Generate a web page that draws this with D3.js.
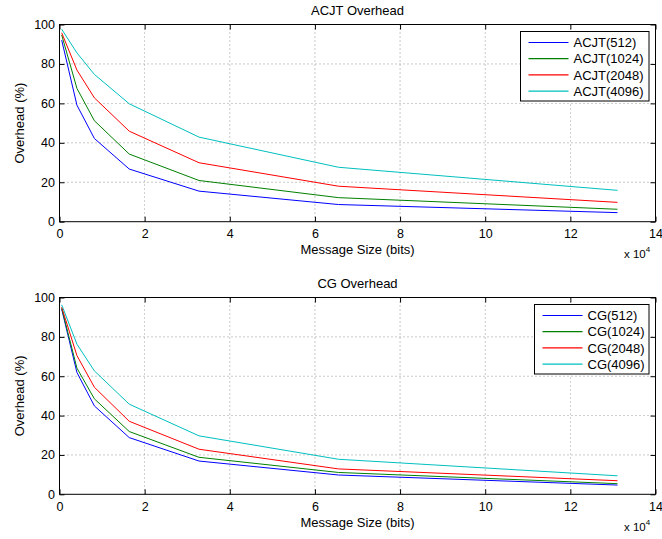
<!DOCTYPE html>
<html><head><meta charset="utf-8">
<script src="https://cdn.jsdelivr.net/npm/d3@7"></script>
<style>
body{margin:0;background:#fff;}
svg text{font-family:"Liberation Sans",Arial,Helvetica,sans-serif;}
</style></head>
<body><svg id="c" width="662" height="539"></svg>
<script>
const sizes = [512, 4096, 8192, 16384, 32768, 65536, 131072];
const keyLengths = ["512", "1024", "2048", "4096"];
const colors = ["#0000ff", "#008000", "#ff0000", "#00bfbf"];
const acjt512  = [92.1, 59.1, 42.2, 26.7, 15.5, 8.7, 4.6];
const acjt1024 = [94.7, 67.6, 51.2, 34.3, 20.9, 12.2, 6.3];
const acjt2048 = [95.8, 76.9, 62.8, 45.9, 29.9, 18.0, 9.8];
const acjt4096 = [97.6, 85.6, 74.7, 59.8, 42.9, 27.6, 15.9];
const cg512  = [94.1, 61.9, 44.9, 28.8, 16.9, 9.8, 4.7];
const cg1024 = [94.6, 64.1, 48.5, 31.9, 18.8, 11.1, 5.4];
const cg2048 = [95.1, 70.5, 54.4, 37.1, 22.9, 12.9, 6.9];
const cg4096 = [96.3, 76.3, 62.7, 45.8, 29.7, 17.8, 9.4];
const xTicks = [0, 2, 4, 6, 8, 10, 12, 14];
const yTicks = [0, 20, 40, 60, 80, 100];

const svg = d3.select("#c");
const L = 59.5, R = 655.5;

function panel(top, bottom, title, prefix, series, legend) {
  const x = d3.scaleLinear().domain([0, 140000]).range([L, R]);
  const y = d3.scaleLinear().domain([0, 100]).range([bottom, top]);
  const g = svg.append("g");
  // grid
  g.selectAll(".gx").data(xTicks.slice(1, -1)).enter().append("line")
    .attr("x1", d => x(d * 1e4)).attr("x2", d => x(d * 1e4))
    .attr("y1", top).attr("y2", bottom)
    .attr("stroke", "#000").attr("stroke-width", 0.6).attr("stroke-dasharray", "1,3").attr("opacity", 0.7);
  g.selectAll(".gy").data(yTicks.slice(1, -1)).enter().append("line")
    .attr("x1", L).attr("x2", R)
    .attr("y1", d => y(d)).attr("y2", d => y(d))
    .attr("stroke", "#000").attr("stroke-width", 0.6).attr("stroke-dasharray", "1,3").attr("opacity", 0.7);
  // axes
  const xa = d3.axisBottom(x).tickValues(xTicks.map(t => t * 1e4)).tickFormat(d => d / 1e4)
    .tickSizeInner(-5).tickSizeOuter(0).tickPadding(7.5);
  const ya = d3.axisLeft(y).tickValues(yTicks).tickSizeInner(-5).tickSizeOuter(0).tickPadding(4.5);
  const gx = g.append("g").attr("transform", `translate(0,${bottom})`).call(xa);
  const gy = g.append("g").attr("transform", `translate(${L},0)`).call(ya);
  const gx2 = g.append("g").attr("transform", `translate(0,${top})`).call(d3.axisTop(x).tickValues(xTicks.map(t => t * 1e4)).tickFormat("").tickSizeInner(-5).tickSizeOuter(0));
  const gy2 = g.append("g").attr("transform", `translate(${R},0)`).call(d3.axisRight(y).tickValues(yTicks).tickFormat("").tickSizeInner(-5).tickSizeOuter(0));
  [gx, gy, gx2, gy2].forEach(a => {
    a.selectAll("path").remove();
    a.selectAll("line").attr("stroke", "#000");
    a.selectAll("text").attr("font-size", 12.5).attr("fill", "#000")
      .attr("font-family", "Liberation Sans, Arial, sans-serif");
  });
  // box
  g.append("rect").attr("x", L).attr("y", top).attr("width", R - L).attr("height", bottom - top)
    .attr("fill", "none").attr("stroke", "#000").attr("stroke-width", 1);
  // lines
  const line = d3.line().x((d, i) => x(sizes[i])).y(d => y(d));
  series.forEach((s, i) => {
    g.append("path").datum(s).attr("d", line).attr("fill", "none")
      .attr("stroke", colors[i]).attr("stroke-width", 1);
  });
  // titles
  g.append("text").attr("x", (L + R) / 2).attr("y", top - 9.5).attr("text-anchor", "middle")
    .attr("font-size", 13).text(title);
  g.append("text").attr("x", (L + R) / 2).attr("y", bottom + 32.5).attr("text-anchor", "middle")
    .attr("font-size", 13).text("Message Size (bits)");
  g.append("text").attr("transform", `translate(24,${(top + bottom) / 2}) rotate(-90)`)
    .attr("text-anchor", "middle").attr("font-size", 13).text("Overhead (%)");
  const ex = g.append("text").attr("x", 624).attr("y", bottom + 36.5).attr("font-size", 11.5);
  ex.append("tspan").text("x 10");
  ex.append("tspan").attr("dy", -6).attr("font-size", 8).text("4");
  // legend
  const lg = g.append("g");
  lg.append("rect").attr("x", legend.x).attr("y", legend.y).attr("width", legend.w).attr("height", legend.h)
    .attr("fill", "#fff").attr("stroke", "#000").attr("stroke-width", 1);
  keyLengths.forEach((k, i) => {
    const yy = legend.y + 11 + i * 16.2;
    lg.append("line").attr("x1", legend.x + 8).attr("x2", legend.x + 48)
      .attr("y1", yy).attr("y2", yy).attr("stroke", colors[i]).attr("stroke-width", 1.2);
    lg.append("text").attr("x", legend.x + 53).attr("y", yy + 4.7).attr("font-size", 13)
      .text(`${prefix}(${k})`);
  });
}

panel(24.5, 221.7, "ACJT Overhead", "ACJT", [acjt512, acjt1024, acjt2048, acjt4096],
  {x: 520.5, y: 31.5, w: 128.5, h: 69.5});
panel(297.5, 494.3, "CG Overhead", "CG", [cg512, cg1024, cg2048, cg4096],
  {x: 534.5, y: 304.5, w: 114.5, h: 69.5});
</script></body></html>
